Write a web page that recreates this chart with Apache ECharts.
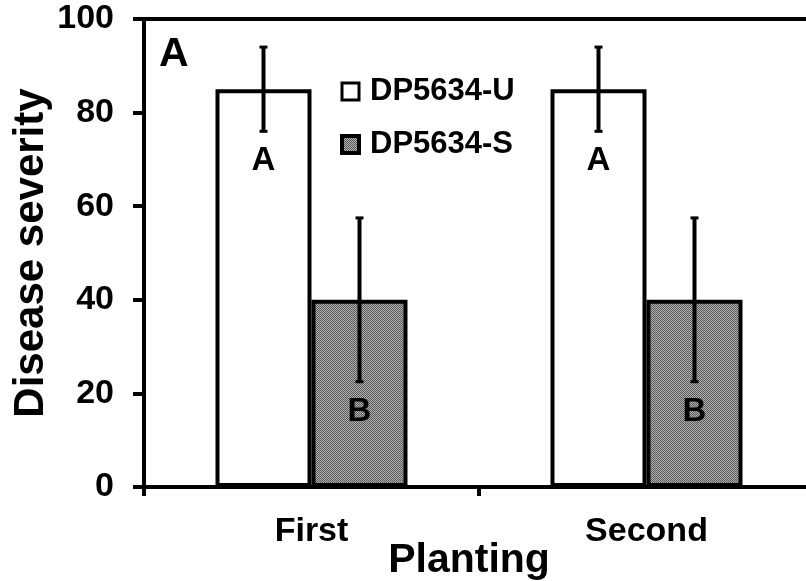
<!DOCTYPE html>
<html><head><meta charset="utf-8">
<script src="https://cdn.jsdelivr.net/npm/echarts@6/dist/echarts.min.js"></script>
<style>html,body{margin:0;padding:0;background:#fff}#c{width:806px;height:581px}</style>
</head><body><div id="c"></div>
<script>
const categories = ['First', 'Second'];
const seriesNames = ['DP5634-U', 'DP5634-S'];
const meansU = [85, 85];
const errU = [9, 9];
const meansS = [40, 40];
const errS = [17.5, 17.5];
const lettersU = ['A', 'A'];
const lettersS = ['B', 'B'];
const yMin = 0, yMax = 100, yInterval = 20;

const FONT = '"Liberation Sans", Arial, sans-serif';
const BAR_W = 96;

// stipple pattern for grey bars
const pc = document.createElement('canvas');
pc.width = 2; pc.height = 2;
const pctx = pc.getContext('2d');
pctx.fillStyle = '#b0b0b0'; pctx.fillRect(0, 0, 2, 2);
pctx.fillStyle = '#5a5a5a'; pctx.fillRect(0, 0, 1, 1); pctx.fillRect(1, 1, 1, 1);
const grey = { image: pc, repeat: 'repeat' };

function errSeries(means, errs, letters, offset) {
  return {
    type: 'custom',
    z: 10,
    silent: true,
    data: means.map((m, i) => [i, m, errs[i]]),
    encode: { x: 0, y: 1 },
    renderItem: function (params, api) {
      const i = api.value(0), m = api.value(1), e = api.value(2);
      const top = api.coord([i, m + e]);
      const bot = api.coord([i, m - e]);
      const x = top[0] + offset;
      return {
        type: 'group',
        children: [
          { type: 'line', shape: { x1: x, y1: top[1], x2: x, y2: bot[1] }, style: { stroke: '#000', lineWidth: 4 } },
          { type: 'line', shape: { x1: x - 4, y1: top[1], x2: x + 4, y2: top[1] }, style: { stroke: '#000', lineWidth: 3 } },
          { type: 'line', shape: { x1: x - 4, y1: bot[1], x2: x + 4, y2: bot[1] }, style: { stroke: '#000', lineWidth: 3 } },
          { type: 'text', x: x, y: bot[1] + 30, style: { text: letters[params.dataIndex], fontSize: 33, fontWeight: 'bold', fontFamily: FONT, fill: '#000', align: 'center', verticalAlign: 'middle' } }
        ]
      };
    }
  };
}

const chart = echarts.init(document.getElementById('c'), null, { renderer: 'canvas' });
chart.setOption({
  animation: false,
  backgroundColor: '#fff',
  title: {
    text: 'A', left: 159, top: 34, padding: 0,
    textStyle: { fontSize: 41, fontWeight: 'bold', fontFamily: FONT, color: '#000' }
  },
  legend: {
    orient: 'vertical', left: 340, top: 76, padding: 0,
    itemWidth: 17, itemHeight: 17, itemGap: 22,
    icon: 'rect',
    data: [
      { name: seriesNames[0], itemStyle: { borderWidth: 3, borderColor: '#000' } },
      { name: seriesNames[1], itemStyle: { borderWidth: 4, borderColor: '#000' } }
    ],
    textStyle: { fontSize: 31, fontWeight: 'bold', fontFamily: FONT, color: '#000', padding: [0, 0, 0, 6] }
  },
  grid: { left: 144, right: -8, top: 19, bottom: 94, containLabel: false, outerBoundsMode: 'none' },
  xAxis: [{
    type: 'category', data: categories,
    axisLine: { lineStyle: { color: '#000', width: 4 } },
    axisTick: { show: true, length: 9, lineStyle: { color: '#000', width: 4 } },
    axisLabel: { fontSize: 34, fontWeight: 'bold', fontFamily: FONT, color: '#000', margin: 28 },
    name: 'Planting', nameLocation: 'middle', nameGap: 53, nameMoveOverlap: false,
    nameTextStyle: { fontSize: 41, fontWeight: 'bold', fontFamily: FONT, color: '#000', padding: [0, 20, 0, 0] }
  }, {
    type: 'category', data: categories, position: 'top',
    axisLine: { lineStyle: { color: '#000', width: 4 } },
    axisTick: { show: false }, axisLabel: { show: false }
  }],
  yAxis: {
    type: 'value', min: yMin, max: yMax, interval: yInterval,
    axisLine: { show: true, lineStyle: { color: '#000', width: 4 } },
    axisTick: { show: true, length: 11, lineStyle: { color: '#000', width: 4 } },
    axisLabel: { fontSize: 34, fontWeight: 'bold', fontFamily: FONT, color: '#000', margin: 30 },
    splitLine: { show: false },
    name: 'Disease severity', nameLocation: 'middle', nameGap: 92, nameRotate: 90, nameMoveOverlap: false,
    nameTextStyle: { fontSize: 42, fontWeight: 'bold', fontFamily: FONT, color: '#000' }
  },
  series: [
    {
      name: seriesNames[0], type: 'bar', data: meansU, barWidth: BAR_W, barGap: '0%',
      itemStyle: { color: '#fff', borderColor: '#000', borderWidth: 4 }
    },
    {
      name: seriesNames[1], type: 'bar', data: meansS, barWidth: BAR_W, barGap: '0%',
      itemStyle: { color: grey, borderColor: '#000', borderWidth: 4 }
    },
    errSeries(meansU, errU, lettersU, -BAR_W / 2),
    errSeries(meansS, errS, lettersS, BAR_W / 2)
  ]
});
</script>
</body></html>
